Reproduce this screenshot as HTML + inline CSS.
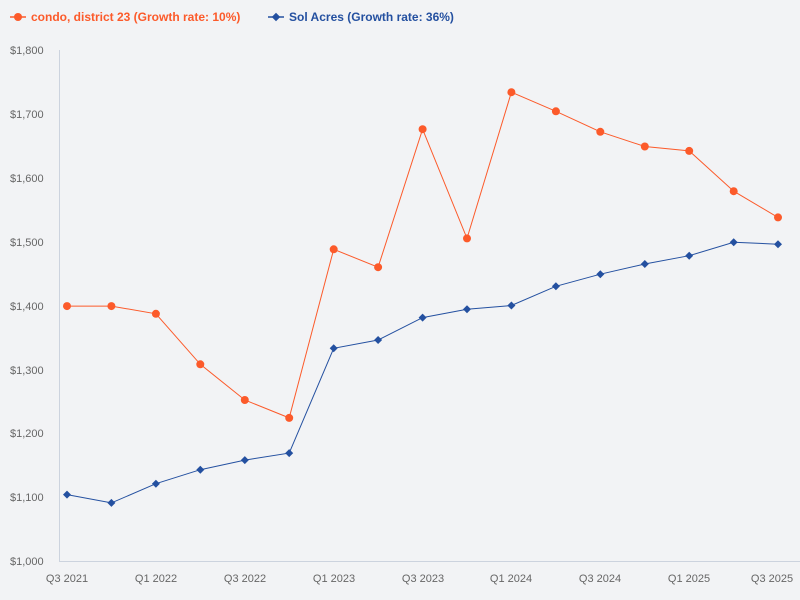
<!DOCTYPE html>
<html><head><meta charset="utf-8"><style>
body{margin:0;background:#f2f3f5;}
svg{display:block;font-family:"Liberation Sans",sans-serif;}
</style></head><body>
<svg width="800" height="600" viewBox="0 0 800 600">
<rect width="800" height="600" fill="#f2f3f5"/>
<g font-size="12" font-weight="bold">
<line x1="10" y1="17" x2="26" y2="17" stroke="#fc5a2a" stroke-width="1.5"/><circle cx="18" cy="17" r="4" fill="#fc5a2a"/>
<text x="31" y="21" fill="#fc5a2a">condo, district 23 (Growth rate: 10%)</text>
<line x1="268" y1="17" x2="284" y2="17" stroke="#2450a0" stroke-width="1.5"/><rect x="273" y="14" width="6" height="6" fill="#2450a0" transform="rotate(45 276 17)"/>
<text x="289" y="21" fill="#2450a0">Sol Acres (Growth rate: 36%)</text>
</g>
<line x1="59.5" y1="50" x2="59.5" y2="561" stroke="#ccd3de"/>
<line x1="59" y1="561.5" x2="800" y2="561.5" stroke="#ccd3de"/>
<g font-size="11" fill="#666" text-anchor="start">
<text x="10" y="54">$1,800</text><text x="10" y="118">$1,700</text><text x="10" y="182">$1,600</text><text x="10" y="246">$1,500</text><text x="10" y="310">$1,400</text><text x="10" y="374">$1,300</text><text x="10" y="437">$1,200</text><text x="10" y="501">$1,100</text><text x="10" y="565">$1,000</text>
</g>
<g font-size="11" fill="#666" text-anchor="middle">
<text x="67" y="582">Q3 2021</text><text x="156" y="582">Q1 2022</text><text x="245" y="582">Q3 2022</text><text x="334" y="582">Q1 2023</text><text x="423" y="582">Q3 2023</text><text x="511" y="582">Q1 2024</text><text x="600" y="582">Q3 2024</text><text x="689" y="582">Q1 2025</text><text x="772" y="582">Q3 2025</text>
</g>
<polyline fill="none" stroke="#fc5a2a" stroke-width="1" points="67,306.1 111.4,306.1 155.9,313.8 200.3,364.3 244.8,400 289.2,417.9 333.7,249.3 378.1,267.2 422.6,129.2 467,238.4 511.4,92.2 555.9,111.3 600.3,131.8 644.8,146.5 689.2,150.9 733.7,191.2 778,217.4"/>
<g fill="#fc5a2a">
<circle cx="67" cy="306.1" r="4"/><circle cx="111.4" cy="306.1" r="4"/><circle cx="155.9" cy="313.8" r="4"/><circle cx="200.3" cy="364.3" r="4"/><circle cx="244.8" cy="400" r="4"/><circle cx="289.2" cy="417.9" r="4"/><circle cx="333.7" cy="249.3" r="4"/><circle cx="378.1" cy="267.2" r="4"/><circle cx="422.6" cy="129.2" r="4"/><circle cx="467" cy="238.4" r="4"/><circle cx="511.4" cy="92.2" r="4"/><circle cx="555.9" cy="111.3" r="4"/><circle cx="600.3" cy="131.8" r="4"/><circle cx="644.8" cy="146.5" r="4"/><circle cx="689.2" cy="150.9" r="4"/><circle cx="733.7" cy="191.2" r="4"/><circle cx="778" cy="217.4" r="4"/>
</g>
<polyline fill="none" stroke="#2450a0" stroke-width="1" points="67,494.6 111.4,502.9 155.9,483.7 200.3,469.7 244.8,460.1 289.2,453.1 333.7,348.3 378.1,340 422.6,317.6 467,309.3 511.4,305.5 555.9,286.3 600.3,274.2 644.8,264 689.2,255.7 733.7,242.3 778,244.2"/>
<g fill="#2450a0">
<path d="M67,490.6l4,4l-4,4l-4,-4z"/><path d="M111.4,498.9l4,4l-4,4l-4,-4z"/><path d="M155.9,479.7l4,4l-4,4l-4,-4z"/><path d="M200.3,465.7l4,4l-4,4l-4,-4z"/><path d="M244.8,456.1l4,4l-4,4l-4,-4z"/><path d="M289.2,449.1l4,4l-4,4l-4,-4z"/><path d="M333.7,344.3l4,4l-4,4l-4,-4z"/><path d="M378.1,336l4,4l-4,4l-4,-4z"/><path d="M422.6,313.6l4,4l-4,4l-4,-4z"/><path d="M467,305.3l4,4l-4,4l-4,-4z"/><path d="M511.4,301.5l4,4l-4,4l-4,-4z"/><path d="M555.9,282.3l4,4l-4,4l-4,-4z"/><path d="M600.3,270.2l4,4l-4,4l-4,-4z"/><path d="M644.8,260l4,4l-4,4l-4,-4z"/><path d="M689.2,251.7l4,4l-4,4l-4,-4z"/><path d="M733.7,238.3l4,4l-4,4l-4,-4z"/><path d="M778,240.2l4,4l-4,4l-4,-4z"/>
</g>
</svg>
</body></html>
